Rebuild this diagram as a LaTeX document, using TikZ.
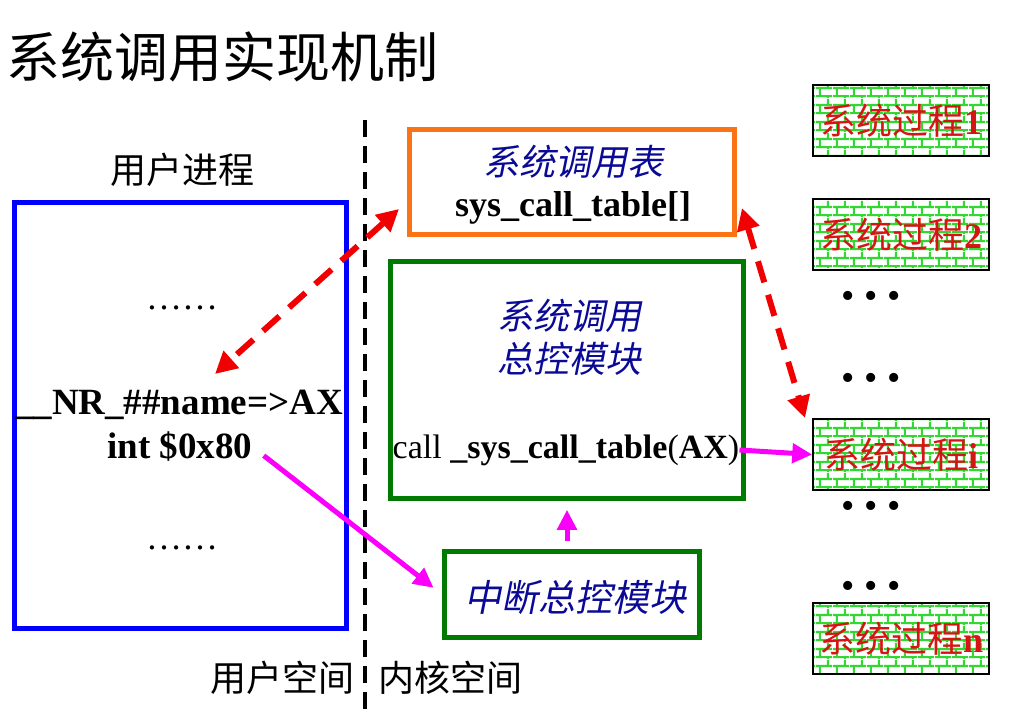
\documentclass[tikz,border=0pt]{standalone}
\usepackage{fontspec}
\setmainfont{Liberation Serif}
\newfontfamily\cjk{Noto Sans CJK SC}
\newfontfamily\cjkit[FakeSlant=0.2]{Noto Sans CJK SC}
\usetikzlibrary{arrows.meta,patterns.meta}
\definecolor{boxblue}{RGB}{0,0,255}
\definecolor{boxorange}{RGB}{250,115,20}
\definecolor{boxgreen}{RGB}{0,122,0}
\definecolor{navy}{RGB}{10,10,150}
\definecolor{brickgreen}{RGB}{50,215,50}
\definecolor{procred}{RGB}{215,20,20}
\definecolor{arrred}{RGB}{240,0,0}
\definecolor{arrmag}{RGB}{250,0,250}
\tikzdeclarepattern{
  name=wall,
  type=uncolored,
  bounding box={(0pt,0pt) and (17pt,17pt)},
  tile size={(17pt,17pt)},
  code={
    \draw[line width=2.2pt] (0pt,2pt) -- (17pt,2pt) (0pt,10.5pt) -- (17pt,10.5pt)
      (4pt,2pt) -- (4pt,10.5pt) (12.5pt,10.5pt) -- (12.5pt,17pt) (12.5pt,0pt) -- (12.5pt,2pt);
  }
}
\begin{document}
\begin{tikzpicture}[
  x=1pt, y=-1pt,
  every node/.style={inner sep=0pt},
  frame/.style={draw, line width=5pt},
  proc/.style={draw=black, line width=1.5pt, pattern=wall, pattern color=brickgreen,
    minimum width=176pt, minimum height=71pt, text=procred, font=\fontsize{36}{36}\selectfont},
  big/.style={font=\fontsize{36}{36}\selectfont},
  zh/.style={font=\cjk\fontsize{36}{36}\selectfont},
  zhit/.style={font=\cjkit\fontsize{36}{43}\selectfont, text=navy, align=center},
  dots/.style={font=\fontsize{38}{38}\selectfont},
  lookup/.style={arrred, line width=6pt, dash pattern=on 22pt off 13pt,
    {Triangle[length=22pt,width=22pt]}-{Triangle[length=22pt,width=22pt]}},
  jump/.style={arrmag, line width=5pt, -{Triangle[length=20pt,width=19pt]}}
]
\useasboundingbox (0,0) rectangle (1009,727);

\node[font=\cjk\fontsize{54}{54}\selectfont, anchor=west] (title) at (6,57) {系统调用实现机制};

\node[zh] (ulabel) at (182,170) {用户进程};
\node[frame, draw=boxblue, minimum width=332pt, minimum height=426pt] (user) at (180.5,415.5) {};
\node[big] (gap1) at (182,308) {……};
\node[big, font=\bfseries\fontsize{37}{37}\selectfont] (nr) at (179,405) {\_\_NR\_\#\#name=>AX};
\node[big, font=\bfseries\fontsize{37}{37}\selectfont] (intx) at (180,447) {int \$0x80};
\node[big] (gap2) at (182,548) {……};

\coordinate (sep1) at (364.5,120);
\coordinate (sep2) at (364.5,712);
\draw[line width=4pt, dash pattern=on 17pt off 9pt] (sep1) -- (sep2);
\node[zh] (uspace) at (282,678) {用户空间};
\node[zh] (kspace) at (450,678) {内核空间};

\node[frame, draw=boxorange, minimum width=325pt, minimum height=104.5pt] (tbl) at (572,182) {};
\node[zhit] (tblname) at (573,162) {系统调用表};
\node[big, font=\bfseries\fontsize{36}{36}\selectfont] (tblvar) at (573,208) {sys\_call\_table[]};

\node[frame, draw=boxgreen, minimum width=352.5pt, minimum height=236.5pt] (ctrl) at (567,380) {};
\node[zhit] (ctrltxt) at (569,337) {系统调用\\总控模块};
\node[font=\fontsize{34}{34}\selectfont] (calltxt) at (566,450) {call \textbf{\_sys\_call\_table}(\textbf{AX})};

\node[frame, draw=boxgreen, minimum width=255pt, minimum height=86pt] (intr) at (571.5,594) {};
\node[zhit, font=\cjkit\fontsize{37}{37}\selectfont] (intrtxt) at (575,597) {中断总控模块};

\node[proc] (p1) at (901,120.5) {{\cjk 系统过程}\textbf{1}};
\node[proc] (p2) at (901,234.5) {{\cjk 系统过程}\textbf{2}};
\node[proc] (pi) at (901,454.5) {{\cjk 系统过程}\textbf{i}};
\node[proc] (pn) at (901,638.5) {{\cjk 系统过程}\textbf{n}};
\node[dots] (d1) at (871,300) {• • •};
\node[dots] (d2) at (871,382) {• • •};
\node[dots] (d3) at (871,510) {• • •};
\node[dots] (d4) at (871,590) {• • •};

\coordinate (t1) at (399,209);
\coordinate (n1) at (215,374);
\coordinate (t2) at (742,208);
\coordinate (q2) at (805,418);
\draw[lookup] (t1) -- (n1);
\draw[lookup] (t2) -- (q2);

\draw[jump, shorten <=14pt, shorten >=10pt] (intx.east) -- (intr.west);
\draw[jump, shorten <=8pt, shorten >=9pt] (intr.north -| ctrl.south) -- (ctrl.south);
\draw[jump] (calltxt.east) -- (pi.west);
\end{tikzpicture}
\end{document}
